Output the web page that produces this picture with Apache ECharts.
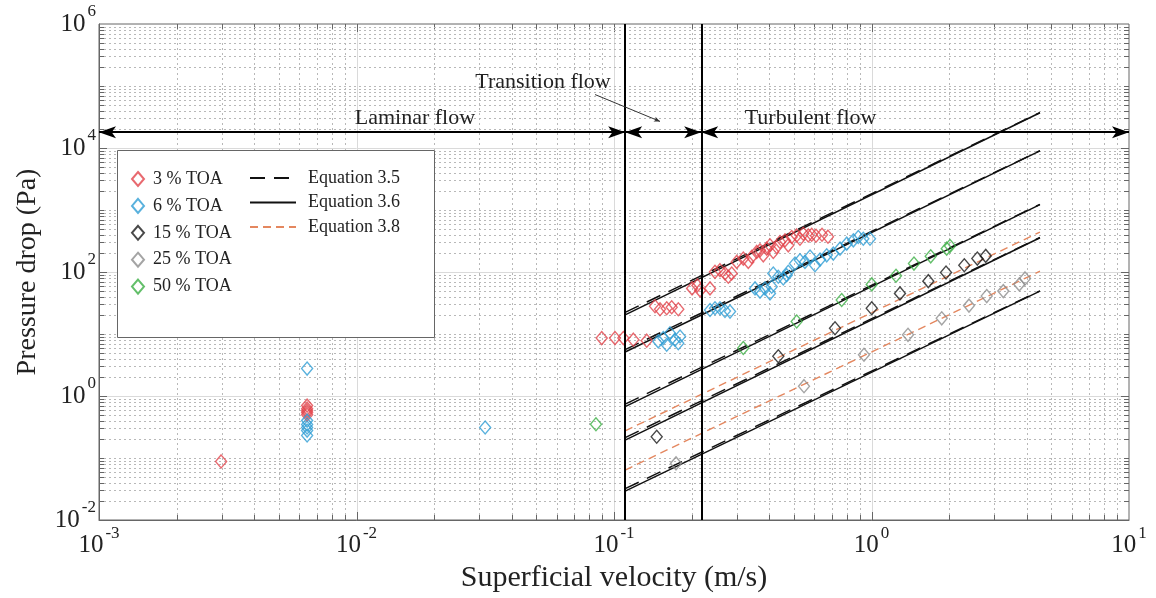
<!DOCTYPE html>
<html>
<head>
<meta charset="utf-8">
<script src="https://cdn.jsdelivr.net/npm/echarts@6/dist/echarts.min.js"></script>
<style>
  html, body { margin: 0; padding: 0; background: #fff; }
  #chart { width: 1156px; height: 598px; }
</style>
</head>
<body>
<div id="chart"></div>
<script>
// Pressure drop against superficial velocity for TOA slurries, log-log.
// Each point is [velocity (m/s), pressure drop (Pa)].
const toa3 = [
  [0.00298, 0.088],
  [0.00643, 0.70], [0.00643, 0.625], [0.00643, 0.58], [0.00643, 0.54], [0.00643, 0.50],
  [0.0896, 8.6], [0.1009, 8.6], [0.1087, 8.6], [0.1189, 8.1], [0.1340, 7.8],
  [0.1443, 28.0], [0.1509, 25.1], [0.1602, 26.0], [0.1675, 27.0], [0.1777, 25.1],
  [0.201, 54.4], [0.2108, 60.8], [0.216, 50.5], [0.236, 54.4],
  [0.2467, 100.7], [0.2580, 107], [0.2698, 94.6], [0.2779, 83.8], [0.2865, 94.6],
  [0.2996, 145.6], [0.3178, 164.6], [0.3323, 145.6], [0.3426, 175.3], [0.3583, 210.8],
  [0.3690, 223.5], [0.3800, 185.9], [0.3917, 238.2], [0.4034, 269.2], [0.4155, 210.8],
  [0.4283, 253.6], [0.4412, 304.9], [0.4613, 323.4], [0.4751, 269.2], [0.4898, 366.6],
  [0.5122, 388.9], [0.5275, 344.3], [0.5433, 414], [0.5682, 388.9], [0.5858, 399],
  [0.6088, 385], [0.6424, 399], [0.6777, 371]
];
const toa6 = [
  [0.00643, 2.77], [0.00643, 0.401], [0.00643, 0.346], [0.00643, 0.31], [0.00643, 0.277], [0.00643, 0.231],
  [0.0316, 0.31],
  [0.1486, 7.6], [0.1554, 8.6], [0.1602, 6.7], [0.1650, 10.3], [0.1725, 8.1], [0.1777, 7.1], [0.1805, 9.1],
  [0.2360, 24.4], [0.2467, 26.0], [0.2580, 26.0], [0.2698, 23.5], [0.2822, 23.0],
  [0.3529, 54.4], [0.3690, 48.2], [0.3858, 54.4], [0.4034, 45.2], [0.4096, 57.9],
  [0.4155, 94.6], [0.4345, 83.8], [0.4544, 78.7], [0.4751, 100.7], [0.4685, 88.9],
  [0.5045, 136.8], [0.5275, 154.5], [0.5516, 145.6], [0.5771, 177.4], [0.6034, 128.5],
  [0.6310, 158.5], [0.6699, 185.9], [0.7105, 198], [0.7547, 238.2], [0.8012, 286.5],
  [0.8503, 323.6], [0.8887, 366.6], [0.9293, 344.3], [0.9867, 344.3]
];
const toa15 = [
  [0.1465, 0.22], [0.4345, 4.37], [0.7216, 12.4], [1.002, 26.0], [1.290, 45.2],
  [1.662, 71.2], [1.947, 98.2], [2.293, 128.5], [2.576, 164.6], [2.777, 181.8]
];
const toa25 = [
  [0.1741, 0.082], [0.5469, 1.44], [0.935, 4.63], [1.386, 9.70], [1.874, 17.9],
  [2.391, 28.7], [2.802, 40.9], [3.250, 49.2], [3.750, 63.1], [3.947, 78.7]
];
const toa50 = [
  [0.0851, 0.35], [0.3178, 5.94], [0.5122, 15.9], [0.766, 35.3], [1.002, 63.1],
  [1.245, 86.9], [1.462, 136.8], [1.698, 179.1], [1.959, 238.2], [2.018, 263]
];

// Model curves: velocity range, and [P at start, P at end] for each curve
const curveVelocity = [0.1105, 4.51];
const eq35 = [[22.3, 37300], [5.6, 9050], [0.74, 1235], [0.213, 360], [0.032, 49.7]];
const eq36 = [[20.3, 36980], [5.12, 8970], [0.673, 1222], [0.194, 357], [0.0292, 49.2]];
const eq38 = [[0.274, 441], [0.064, 103]];

// Flow regime boundaries (m/s) and the level of the regime arrows (Pa)
const regimeBounds = [0.1105, 0.218];
const arrowLevel = 1.8e4;

// Axis ranges and labelled decades
const X_MIN = 1e-3, X_MAX = 10, Y_MIN = 1e-2, Y_MAX = 1e6;
const xTickExp = [-3, -2, -1, 0, 1];
const yTickExp = [-2, 0, 2, 4, 6];

const seriesNames = ['3 % TOA', '6 % TOA', '15 % TOA', '25 % TOA', '50 % TOA'];
const seriesColors = ['#e2444b', '#2f9ed4', '#1a1a1a', '#8d8d8d', '#3caf45'];
const seriesData = [toa3, toa6, toa15, toa25, toa50];
const curveNames = ['Equation 3.5', 'Equation 3.6', 'Equation 3.8'];

const FONT = '"Liberation Serif", "Times New Roman", serif';

// Decade and sub-decade grid positions
const gridItems = [];
for (let d = -3; d < 1; d++) {
  for (let m = 1; m <= 9; m++) {
    if (d === -3 && m === 1) continue;
    const major = (m === 1 && xTickExp.includes(d)) ? 1 : 0;
    gridItems.push([m * Math.pow(10, d), 1, 0, major]);
  }
}
for (let d = -2; d < 6; d++) {
  for (let m = 1; m <= 9; m++) {
    if (d === -2 && m === 1) continue;
    const major = (m === 1 && yTickExp.includes(d)) ? 1 : 0;
    gridItems.push([0.01, m * Math.pow(10, d), 1, major]);
  }
}

function crisp(v) { return Math.round(v) + 0.5; }

function renderGrid(params, api) {
  const dir = api.value(2);
  const major = api.value(3);
  let a, b;
  if (dir === 0) {
    const v = api.value(0);
    a = api.coord([v, Y_MIN]); b = api.coord([v, Y_MAX]);
    a[0] = b[0] = crisp(a[0]);
  } else {
    const v = api.value(1);
    a = api.coord([X_MIN, v]); b = api.coord([X_MAX, v]);
    a[1] = b[1] = crisp(a[1]);
  }
  const tl = major ? 8 : 5;
  const tickStyle = { stroke: '#666', lineWidth: 1 };
  const children = [{
    type: 'line',
    shape: { x1: a[0], y1: a[1], x2: b[0], y2: b[1] },
    style: major ? { stroke: '#dadada', lineWidth: 1 }
                 : { stroke: '#b8b8b8', lineWidth: 1, lineDash: [2, 3] }
  }];
  if (dir === 0) {
    children.push({ type: 'line', shape: { x1: a[0], y1: a[1], x2: a[0], y2: a[1] - tl }, style: tickStyle });
    children.push({ type: 'line', shape: { x1: b[0], y1: b[1], x2: b[0], y2: b[1] + tl }, style: tickStyle });
  } else {
    children.push({ type: 'line', shape: { x1: a[0], y1: a[1], x2: a[0] + tl, y2: a[1] }, style: tickStyle });
    children.push({ type: 'line', shape: { x1: b[0], y1: b[1], x2: b[0] - tl, y2: b[1] }, style: tickStyle });
  }
  return { type: 'group', children };
}

// "10" with a raised exponent
function powLabel(value) {
  return '{b|10}{s|' + Math.round(Math.log10(value)) + '}';
}
const powRich = {
  b: { fontFamily: FONT, fontSize: 25, color: '#222' },
  s: { fontFamily: FONT, fontSize: 17, color: '#222', padding: [0, 0, 24, 2] }
};

const series = [];
series.push({
  name: 'grid', type: 'custom', renderItem: renderGrid, data: gridItems,
  encode: { x: 0, y: 1 }, silent: true, z: 1, clip: false
});

function curveSeries(name, pairs, style) {
  pairs.forEach(function (p) {
    series.push({
      name: name, type: 'line', symbol: 'none', silent: true, z: 3,
      lineStyle: style, itemStyle: { color: style.color },
      data: [[curveVelocity[0], p[0]], [curveVelocity[1], p[1]]]
    });
  });
}
curveSeries(curveNames[0], eq35, { color: '#111', width: 1.5, type: [15, 9] });
curveSeries(curveNames[1], eq36, { color: '#111', width: 1.5, type: 'solid' });
curveSeries(curveNames[2], eq38, { color: '#e4875f', width: 1.4, type: [8, 5] });

seriesNames.forEach(function (name, i) {
  series.push({
    name: name, type: 'scatter', symbol: 'diamond', symbolSize: [11, 13], z: 4,
    itemStyle: { color: 'rgba(255,255,255,0)', borderColor: seriesColors[i], borderWidth: 1.4 },
    data: seriesData[i]
  });
});

// Regime boundaries, arrows and labels
series.push({
  name: 'bounds', type: 'line', data: [], silent: true, z: 5,
  markLine: {
    silent: true, symbol: 'none', animation: false,
    label: { show: false },
    lineStyle: { color: '#000', width: 2, type: 'solid' },
    data: regimeBounds.map(function (v) { return { xAxis: v }; })
  }
});
series.push({
  name: 'arrows', type: 'line', data: [], silent: true, z: 5,
  markLine: {
    silent: true, symbol: ['arrow', 'arrow'], symbolSize: [9, 17], animation: false,
    label: { show: false },
    lineStyle: { color: '#000', width: 2, type: 'solid' },
    data: [
      [{ coord: [X_MIN, arrowLevel] }, { coord: [regimeBounds[0], arrowLevel] }],
      [{ coord: [regimeBounds[0], arrowLevel] }, { coord: [regimeBounds[1], arrowLevel] }],
      [{ coord: [regimeBounds[1], arrowLevel] }, { coord: [X_MAX, arrowLevel] }]
    ]
  },
  markPoint: {
    silent: true, symbol: 'circle', symbolSize: 0, animation: false,
    label: { show: true, position: 'inside', formatter: '{b}', fontFamily: FONT, fontSize: 22, color: '#222' },
    data: [
      { name: 'Laminar flow', coord: [0.01686, 30500] },
      { name: 'Turbulent flow', coord: [0.58, 30500] },
      { name: 'Transition flow', coord: [0.053, 115000] }
    ]
  }
});
series.push({
  name: 'leader', type: 'line', data: [], silent: true, z: 5,
  markLine: {
    silent: true, symbol: ['none', 'arrow'], symbolSize: [4, 6], animation: false,
    label: { show: false },
    lineStyle: { color: '#333', width: 1, type: 'solid' },
    data: [[{ coord: [0.0844, 72800] }, { coord: [0.1509, 26850] }]]
  }
});

const chart = echarts.init(document.getElementById('chart'), null, { renderer: 'canvas' });
chart.setOption({
  animation: false,
  backgroundColor: '#fff',
  grid: { left: 99, right: 27, top: 24, bottom: 75, show: true, borderColor: '#666', borderWidth: 1, backgroundColor: 'transparent' },
  xAxis: {
    type: 'log', logBase: 10, min: X_MIN, max: X_MAX,
    axisLine: { show: true, lineStyle: { color: '#666' } },
    axisTick: { show: false }, splitLine: { show: false },
    axisLabel: { margin: 5, formatter: powLabel, rich: powRich },
    name: 'Superficial velocity (m/s)', nameLocation: 'middle', nameGap: 43,
    nameTextStyle: { fontFamily: FONT, fontSize: 30, color: '#222' }
  },
  yAxis: {
    type: 'log', logBase: 10, min: Y_MIN, max: Y_MAX,
    axisLine: { show: true, lineStyle: { color: '#666' } },
    axisTick: { show: false }, splitLine: { show: false },
    axisLabel: {
      margin: 3,
      formatter: function (value) {
        const e = Math.round(Math.log10(value));
        return yTickExp.includes(e) ? powLabel(value) : '';
      },
      rich: powRich
    },
    name: 'Pressure drop (Pa)', nameLocation: 'middle', nameGap: 57, nameRotate: 90,
    nameTextStyle: { fontFamily: FONT, fontSize: 28, color: '#222' }
  },
  graphic: [{
    type: 'rect', left: 117, top: 150, z: 6,
    shape: { width: 317, height: 187 },
    style: { fill: '#fff', stroke: '#666', lineWidth: 1 }
  }],
  legend: [{
    data: seriesNames, orient: 'vertical', left: 126, top: 165, z: 10,
    itemWidth: 12, itemHeight: 14, itemGap: 8.9, icon: 'diamond',
    textStyle: { fontFamily: FONT, fontSize: 18, color: '#222', padding: [0, 0, 0, 4] },
    selectedMode: false
  }, {
    data: curveNames, orient: 'vertical', left: 244, top: 164, z: 10,
    itemWidth: 46, itemHeight: 14, itemGap: 6.5,
    itemStyle: { opacity: 0 },
    textStyle: { fontFamily: FONT, fontSize: 18, color: '#222', padding: [0, 0, 0, 7] },
    selectedMode: false
  }],
  series: series
});
</script>
</body>
</html>
